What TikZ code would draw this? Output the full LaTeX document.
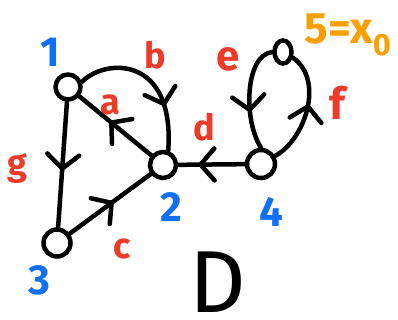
\documentclass[tikz,border=0pt]{standalone}
\usepackage{fontspec}
\setmainfont{Fira Sans}
\usetikzlibrary{arrows.meta,decorations.markings,shapes.geometric}
\definecolor{nblue}{RGB}{16,112,245}
\definecolor{ered}{RGB}{238,58,40}
\definecolor{zorange}{RGB}{252,160,0}
\tikzset{
  vtx/.style={circle,draw,line width=4.5pt,inner sep=0pt,minimum size=25pt},
  edge/.style={line width=4.5pt,line cap=round},
  midarrow/.style={postaction={decorate},decoration={markings,mark=at position #1 with {\arrow{Straight Barb[length=14pt,width=32pt,round]}}}},
  vlab/.style={text=nblue,font=\fontsize{42}{42}\selectfont\bfseries,inner sep=0pt},
  elab/.style={text=ered,font=\fontsize{36}{36}\selectfont\bfseries,inner sep=0pt},
}
\begin{document}
\begin{tikzpicture}[x=1pt,y=-1pt]
\useasboundingbox (0,0) rectangle (398,320);
% vertices
\node[vtx] (n1) at (68,87) {};
\node[vtx,minimum size=26pt] (n2) at (163,165) {};
\node[vtx,minimum size=27pt] (n3) at (57,243) {};
\node[vtx,minimum size=28pt] (n4) at (261,164) {};
\node[ellipse,draw,line width=4.5pt,inner sep=0pt,minimum width=17pt,minimum height=23pt] (n5) at (283,52) {};
% edges
\draw[edge,midarrow=0.55] (n1) -- (n3);
\draw[edge,midarrow=0.58] (n2) -- (n1);
\draw[edge,midarrow=0.7] (n1.20) .. controls (105,58) and (175,55) .. (n2.70);
\draw[edge,midarrow=0.54] (n3) -- (n2);
\draw[edge,midarrow=0.7] (n4) -- (n2);
\draw[edge,midarrow=0.65] (n5.west) .. controls (245,55) and (243,120) .. (n4.north);
\draw[edge,midarrow=0.55] (n4.30) .. controls (305,140) and (325,80) .. (n5.-30);
% vertex labels
\node[vlab] (l1) at (50,52) {1};
\node[vlab] (l2) at (171,207) {2};
\node[vlab] (l3) at (39,280) {3};
\node[vlab] (l4) at (271,212) {4};
\node[text=zorange,font=\fontsize{44}{44}\selectfont\bfseries,inner sep=0pt] (l5) at (348,35) {5=x\textsubscript{0}};
% edge labels
\node[elab] (la) at (110,105) {a};
\node[elab] (lb) at (155,55) {b};
\node[elab] (lc) at (122,249) {c};
\node[elab] (ld) at (204,127) {d};
\node[elab,font=\fontsize{42}{42}\selectfont\bfseries] (le) at (228,59) {e};
\node[elab,font=\fontsize{44}{44}\selectfont\bfseries] (lf) at (337,103) {f};
\node[elab] (lg) at (17,168) {g};
% graph name
\node[font=\fontsize{88}{88}\selectfont,inner sep=0pt,text depth=0pt,anchor=base] (ldd) at (218,312) {D};
\end{tikzpicture}
\end{document}
